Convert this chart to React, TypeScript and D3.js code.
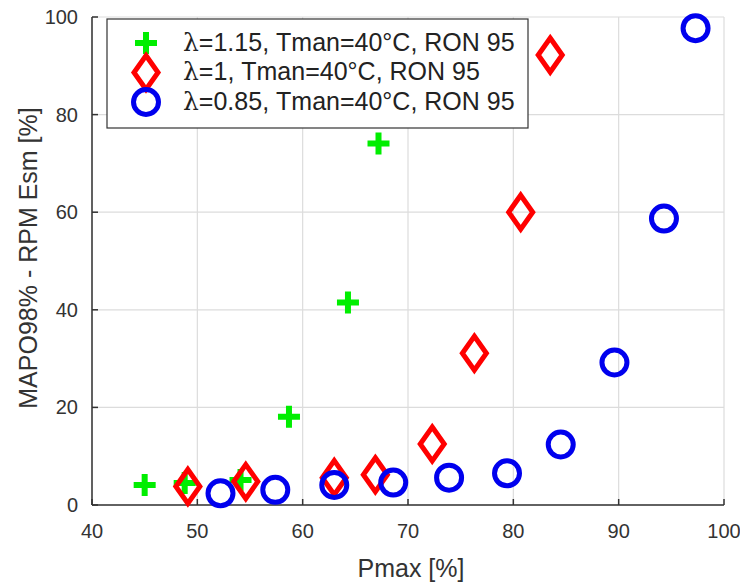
import React from 'react';
import * as d3 from 'd3';

// values
const leanX = [45.0, 48.8, 54.1, 58.7, 64.3, 67.2];
const leanY = [4.1, 4.5, 5.1, 18.1, 41.5, 74.1];

const stoichX = [49.1, 54.6, 63.0, 66.9, 72.3, 76.3, 80.7, 83.5];
const stoichY = [3.8, 4.8, 5.6, 6.2, 12.5, 31.1, 60.0, 92.2];

const richX = [52.2, 57.4, 63.0, 68.6, 73.9, 79.4, 84.5, 89.6, 94.3, 97.3];
const richY = [2.4, 3.1, 4.1, 4.6, 5.6, 6.5, 12.4, 29.2, 58.7, 97.7];

const xTicks = [40, 50, 60, 70, 80, 90, 100];
const yTicks = [0, 20, 40, 60, 80, 100];

const legendLabels = [
  { lam: '1.15', rest: ', Tman=40°C, RON 95', kind: 'plus' },
  { lam: '1', rest: ', Tman=40°C, RON 95', kind: 'diamond' },
  { lam: '0.85', rest: ', Tman=40°C, RON 95', kind: 'circle' },
];

const W = 740, H = 587;
const margin = { top: 17, right: 16, bottom: 82, left: 92 };
const font = 'Liberation Sans, Arial, sans-serif';

function Plus({ x, y }: { x: number; y: number }) {
  return (
    <path d={`M${x - 11},${y}H${x + 11}M${x},${y - 11}V${y + 11}`}
      stroke="#00ee00" strokeWidth={6} fill="none" />
  );
}

function Diamond({ x, y }: { x: number; y: number }) {
  return (
    <path d={`M${x},${y - 17}L${x + 12},${y}L${x},${y + 17}L${x - 12},${y}Z`}
      stroke="#ff0000" strokeWidth={5} fill="none" strokeLinejoin="miter" />
  );
}

function Circle({ x, y }: { x: number; y: number }) {
  return <circle cx={x} cy={y} r={12.5} stroke="#0000ee" strokeWidth={5} fill="none" />;
}

export default function App() {
  const x = d3.scaleLinear().domain([40, 100]).range([margin.left, W - margin.right]);
  const y = d3.scaleLinear().domain([0, 100]).range([H - margin.bottom, margin.top]);
  const x0 = x(40), x1 = x(100), y0 = y(0), y1 = y(100);

  return (
    <svg width={W} height={H} style={{ position: 'absolute', left: 0, top: 0, background: '#fff' }}>
      {/* grid */}
      {xTicks.map(t => (
        <line key={'gx' + t} x1={x(t)} x2={x(t)} y1={y0} y2={y1} stroke="#dcdcdc" strokeWidth={1.2} />
      ))}
      {yTicks.map(t => (
        <line key={'gy' + t} x1={x0} x2={x1} y1={y(t)} y2={y(t)} stroke="#dcdcdc" strokeWidth={1.2} />
      ))}

      {/* axes */}
      <line x1={x0} x2={x1} y1={y0} y2={y0} stroke="#333" strokeWidth={1.5} />
      <line x1={x0} x2={x0} y1={y0} y2={y1} stroke="#333" strokeWidth={1.5} />
      {xTicks.map(t => (
        <g key={'tx' + t}>
          <line x1={x(t)} x2={x(t)} y1={y0} y2={y0 - 6} stroke="#333" strokeWidth={1.5} />
          <text x={x(t)} y={y0 + 33} textAnchor="middle" fontFamily={font} fontSize={20} fill="#333">{t}</text>
        </g>
      ))}
      {yTicks.map(t => (
        <g key={'ty' + t}>
          <line x1={x0} x2={x0 + 6} y1={y(t)} y2={y(t)} stroke="#333" strokeWidth={1.5} />
          <text x={x0 - 14} y={y(t) + 7} textAnchor="end" fontFamily={font} fontSize={20} fill="#333">{t}</text>
        </g>
      ))}

      <text x={411} y={577} textAnchor="middle" fontFamily={font} fontSize={25} fill="#333">Pmax [%]</text>
      <text transform={`translate(37,258) rotate(-90)`} textAnchor="middle"
        fontFamily={font} fontSize={25} fill="#333">MAPO98% - RPM Esm [%]</text>

      {/* data */}
      {leanX.map((v, i) => <Plus key={'p' + i} x={x(v)} y={y(leanY[i])} />)}
      {stoichX.map((v, i) => <Diamond key={'d' + i} x={x(v)} y={y(stoichY[i])} />)}
      {richX.map((v, i) => <Circle key={'c' + i} x={x(v)} y={y(richY[i])} />)}

      {/* legend */}
      <rect x={107} y={19} width={421} height={109} fill="#fff" stroke="#333" strokeWidth={1.2} />
      {legendLabels.map((l, i) => {
        const cy = 43 + i * 29.5;
        return (
          <g key={'l' + i}>
            {l.kind === 'plus' && <Plus x={146} y={cy} />}
            {l.kind === 'diamond' && <Diamond x={146} y={cy} />}
            {l.kind === 'circle' && <Circle x={146} y={cy} />}
            <text x={183} y={cy + 7.5} fontFamily={font} fontSize={25} fill="#222">
              <tspan fontFamily="DejaVu Serif, serif">λ</tspan>={l.lam}{l.rest}
            </text>
          </g>
        );
      })}
    </svg>
  );
}
